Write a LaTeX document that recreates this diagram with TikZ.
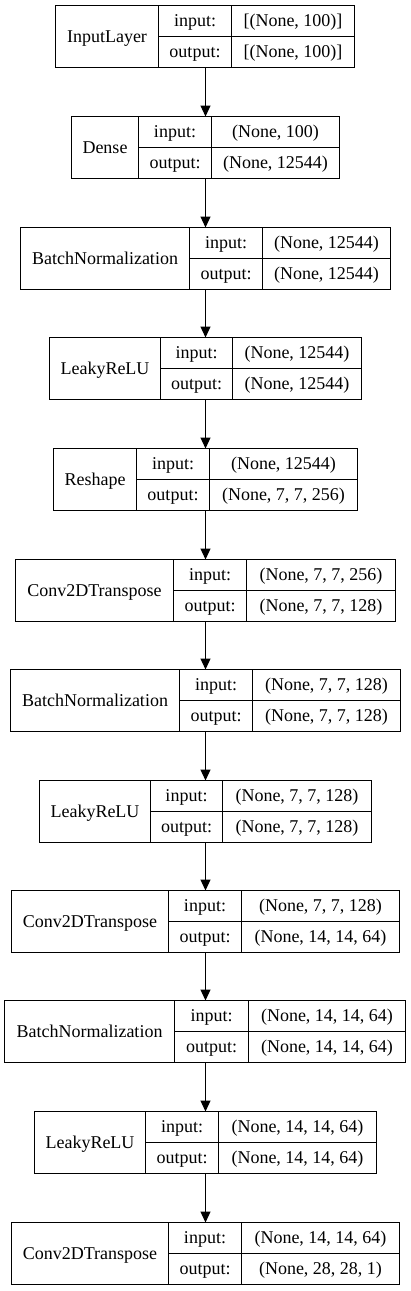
\documentclass[tikz,border=0pt]{standalone}
\usepackage{fontspec}
\setmainfont{Liberation Serif}
\usetikzlibrary{arrows.meta}
\tikzset{
  frame/.style={draw, line width=1.2pt, inner sep=0pt, outer sep=0pt, anchor=north west, minimum height=62pt},
  cell/.style={draw, line width=1.2pt, inner sep=0pt, outer sep=0pt, anchor=north west,
    font=\fontsize{18}{21}\selectfont, text height=14.5pt, text depth=3.5pt},
  arr/.style={line width=1.2pt, -{Triangle[length=11pt,width=10pt]}},
}
\newcommand\layer[9]{%
  \node[frame, minimum width={#6-#3}] (#1) at ({#3},{#2}) {};
  \node[cell, minimum width={#4-#3}, minimum height=62pt] (#1-name) at ({#3},{#2}) {#7};
  \node[cell, minimum width={#5-#4}, minimum height=31pt] (#1-il) at ({#4},{#2}) {input:};
  \node[cell, minimum width={#6-#5}, minimum height=31pt] (#1-iv) at ({#5},{#2}) {#8};
  \node[cell, minimum width={#5-#4}, minimum height=31pt] (#1-ol) at ({#4},{#2+31}) {output:};
  \node[cell, minimum width={#6-#5}, minimum height=31pt] (#1-ov) at ({#5},{#2+31}) {#9};
}
\begin{document}
\begin{tikzpicture}[x=1pt,y=-1pt]
\useasboundingbox (0,0) rectangle (411,1291);
\coordinate (ax) at (205.5,0);
\layer{b0}{5.5}{55.5}{158.5}{231.5}{354.5}{InputLayer}{[(None, 100)]}{[(None, 100)]}
\layer{b1}{116.5}{71.5}{138.5}{211.5}{339.5}{Dense}{(None, 100)}{(None, 12544)}
\layer{b2}{227.5}{20.5}{189.5}{262.5}{390.5}{BatchNormalization}{(None, 12544)}{(None, 12544)}
\layer{b3}{337.5}{49.5}{160.5}{232.5}{361.5}{LeakyReLU}{(None, 12544)}{(None, 12544)}
\layer{b4}{448.5}{53.5}{136.5}{209.5}{357.5}{Reshape}{(None, 12544)}{(None, 7, 7, 256)}
\layer{b5}{559.5}{15.5}{173.5}{246.5}{395.5}{Conv2DTranspose}{(None, 7, 7, 256)}{(None, 7, 7, 128)}
\layer{b6}{669.5}{10.5}{179.5}{252.5}{400.5}{BatchNormalization}{(None, 7, 7, 128)}{(None, 7, 7, 128)}
\layer{b7}{780.5}{39.5}{150.5}{222.5}{371.5}{LeakyReLU}{(None, 7, 7, 128)}{(None, 7, 7, 128)}
\layer{b8}{890.5}{11.5}{168.5}{241.5}{399.5}{Conv2DTranspose}{(None, 7, 7, 128)}{(None, 14, 14, 64)}
\layer{b9}{1000.5}{4.5}{174.5}{248.5}{405.5}{BatchNormalization}{(None, 14, 14, 64)}{(None, 14, 14, 64)}
\layer{b10}{1111.5}{34.5}{145.5}{218.5}{376.5}{LeakyReLU}{(None, 14, 14, 64)}{(None, 14, 14, 64)}
\layer{b11}{1222.5}{11.5}{168.5}{241.5}{399.5}{Conv2DTranspose}{(None, 14, 14, 64)}{(None, 28, 28, 1)}
\foreach \a/\b in {b0/b1,b1/b2,b2/b3,b3/b4,b4/b5,b5/b6,b6/b7,b7/b8,b8/b9,b9/b10,b10/b11}
  \draw[arr] (\a.south -| ax) -- (\b.north -| ax);
\end{tikzpicture}
\end{document}
